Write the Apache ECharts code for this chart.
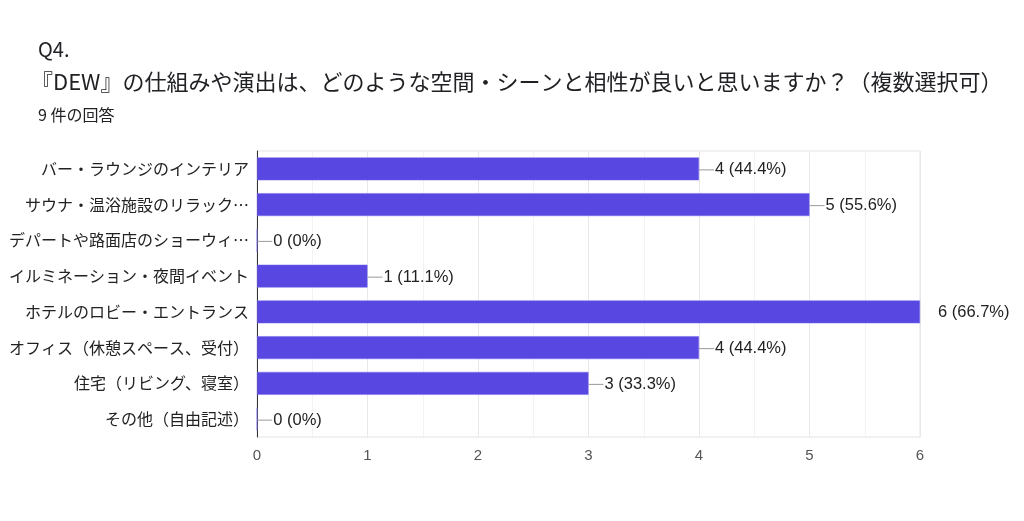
<!DOCTYPE html>
<html>
<head>
<meta charset="utf-8">
<script src="https://cdn.jsdelivr.net/npm/echarts@6/dist/echarts.min.js"></script>
<style>
  html, body { margin: 0; padding: 0; background: #fff; }
  #chart { width: 1024px; height: 521px; }
</style>
</head>
<body>
<div id="chart"></div>
<script>
var categories = [
    'バー・ラウンジのインテリア',
    'サウナ・温浴施設のリラック…',
    'デパートや路面店のショーウィ…',
    'イルミネーション・夜間イベント',
    'ホテルのロビー・エントランス',
    'オフィス（休憩スペース、受付）',
    '住宅（リビング、寝室）',
    'その他（自由記述）'
];
var counts = [4, 5, 0, 1, 6, 4, 3, 0];
var percents = ['44.4%', '55.6%', '0%', '11.1%', '66.7%', '44.4%', '33.3%', '0%'];
var xTicks = [0, 1, 2, 3, 4, 5, 6];

var cjk = '"Noto Sans CJK JP", "Noto Sans", sans-serif';
var latin = '"Liberation Sans", Arial, sans-serif';
var myChart = echarts.init(document.getElementById('chart'));

myChart.setOption({
    backgroundColor: '#fff',
    animation: false,
    title: [
        {
            text: 'Q4.',
            left: 33, top: 34,
            textStyle: { fontFamily: cjk, fontSize: 20, fontWeight: 'normal', color: '#202124' }
        },
        {
            text: '『DEW』の仕組みや演出は、どのような空間・シーンと相性が良いと思いますか？（複数選択可）',
            left: 26, top: 66,
            textStyle: { fontFamily: cjk, fontSize: 22, fontWeight: 'normal', color: '#202124' }
        },
        {
            text: '9 件の回答',
            left: 33, top: 102,
            textStyle: { fontFamily: cjk, fontSize: 16, fontWeight: 'normal', color: '#202124' }
        }
    ],
    grid: {
        left: 257, right: 104, top: 151, bottom: 84,
        show: true,
        borderColor: '#e4e4e4',
        borderWidth: 1
    },
    xAxis: {
        type: 'value',
        min: xTicks[0],
        max: xTicks[xTicks.length - 1],
        interval: 1,
        axisLine: { show: false },
        axisTick: { show: false },
        axisLabel: { fontFamily: latin, fontSize: 15, color: '#555', margin: 11 },
        splitLine: { lineStyle: { color: '#e8e8e8' } },
        minorTick: { show: false, splitNumber: 2 },
        minorSplitLine: { show: true, lineStyle: { color: '#f3f3f3' } }
    },
    yAxis: {
        type: 'category',
        inverse: true,
        data: categories,
        axisLine: { show: true, lineStyle: { color: '#333', width: 1 } },
        axisTick: { show: false },
        axisLabel: { fontFamily: cjk, fontSize: 16, color: '#222', margin: 8 }
    },
    series: [
        {
            type: 'bar',
            data: counts,
            barWidth: '64%',
            itemStyle: { color: '#5847e0', borderColor: '#7a6cf0', borderWidth: 0.5 },
            label: {
                show: true,
                position: 'right',
                distance: 0,
                offset: [0, 1],
                formatter: function (p) {
                    var txt = p.value + ' (' + percents[p.dataIndex] + ')';
                    // the longest bar has no leader line, only the gap
                    if (p.value === xTicks[xTicks.length - 1]) {
                        return '{sp|}{t|' + txt + '}';
                    }
                    return '{ln|}{t|' + txt + '}';
                },
                rich: {
                    ln: { width: 15, height: 1, backgroundColor: '#999', verticalAlign: 'middle' },
                    sp: { width: 17, height: 1 },
                    t: { fontFamily: latin, fontSize: 16.5, color: '#222', padding: [0, 0, 0, 1] }
                }
            }
        }
    ]
});
</script>
</body>
</html>
